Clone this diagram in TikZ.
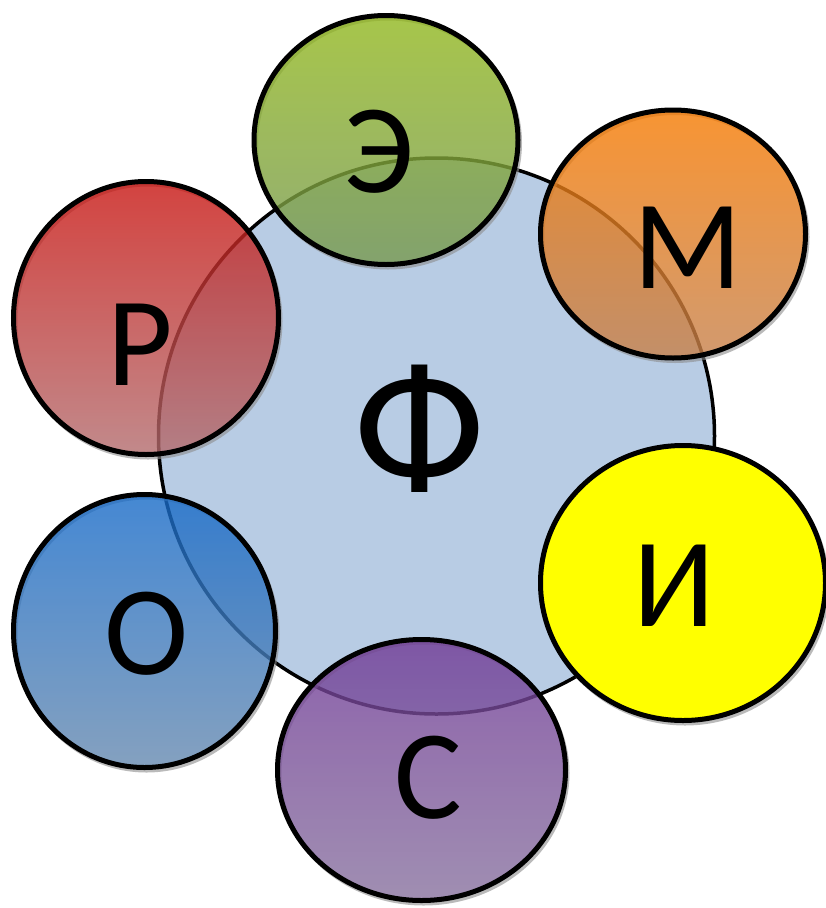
\documentclass[tikz,border=0pt]{standalone}
\usepackage{fontspec}
\setmainfont{Carlito}
\usetikzlibrary{shapes.geometric}
\definecolor{bigfill}{RGB}{184,204,228}
\definecolor{gtop}{RGB}{145,183,29}
\definecolor{gbot}{RGB}{118,152,80}
\definecolor{otop}{RGB}{246,122,0}
\definecolor{obot}{RGB}{198,128,75}
\definecolor{rtop}{RGB}{200,20,16}
\definecolor{rbot}{RGB}{178,108,110}
\definecolor{btop}{RGB}{22,106,200}
\definecolor{bbot}{RGB}{102,137,175}
\definecolor{ptop}{RGB}{112,58,150}
\definecolor{pbot}{RGB}{136,114,158}
\definecolor{yfill}{RGB}{255,255,0}
\tikzset{
  x=1pt, y=-1pt,
  blob/.style={ellipse, draw=black, line width=5pt, inner sep=0pt, fill opacity=0.8},
  shadowring/.style={ellipse, draw=black!45, line width=4pt, inner sep=0pt, draw opacity=0.6},
  letter/.style={anchor=base, inner sep=0pt, font=\fontsize{127}{127}\selectfont, text=black},
}
\begin{document}
\begin{tikzpicture}
\useasboundingbox (0,0) rectangle (826,908);
\node[circle, draw=black, line width=3.5pt, fill=bigfill, minimum size=556pt, inner sep=0pt] (F) at (436.5,436) {};
% shadows
\node[shadowring, minimum width=264pt, minimum height=249pt] (Es) at (388,143) {};
\node[shadowring, minimum width=265pt, minimum height=248pt] (Ms) at (675,237) {};
\node[shadowring, minimum width=265pt, minimum height=273pt] (Rs) at (148,321) {};
\node[shadowring, minimum width=262pt, minimum height=273pt] (Os) at (146.5,634) {};
\node[shadowring, minimum width=288pt, minimum height=261pt] (Ss) at (423.5,773) {};
\node[shadowring, minimum width=285pt, minimum height=275pt] (Is) at (685,586) {};
% circles
\node[blob, top color=gtop, bottom color=gbot, minimum width=264pt, minimum height=249pt] (E) at (386,140) {};
\node[blob, top color=otop, bottom color=obot, minimum width=265pt, minimum height=248pt] (M) at (673,234) {};
\node[blob, top color=rtop, bottom color=rbot, minimum width=265pt, minimum height=273pt] (R) at (146,318) {};
\node[blob, top color=btop, bottom color=bbot, minimum width=262pt, minimum height=273pt] (O) at (144.5,631) {};
\node[blob, top color=ptop, bottom color=pbot, minimum width=288pt, minimum height=261pt] (S) at (421.5,770) {};
\node[ellipse, draw=black, line width=5pt, inner sep=0pt, fill=yfill, minimum width=285pt, minimum height=275pt] (I) at (683,583) {};
% letters
\node[letter, font=\fontsize{190}{190}\selectfont] (tF) at (420,492) {Ф};
\node[letter] (tE) at (379,192) {Э};
\node[letter] (tM) at (688,288) {М};
\node[letter] (tR) at (140,385) {Р};
\node[letter] (tI) at (674,626) {И};
\node[letter] (tO) at (147,674) {О};
\node[letter] (tS) at (428,818) {С};
\end{tikzpicture}
\end{document}
